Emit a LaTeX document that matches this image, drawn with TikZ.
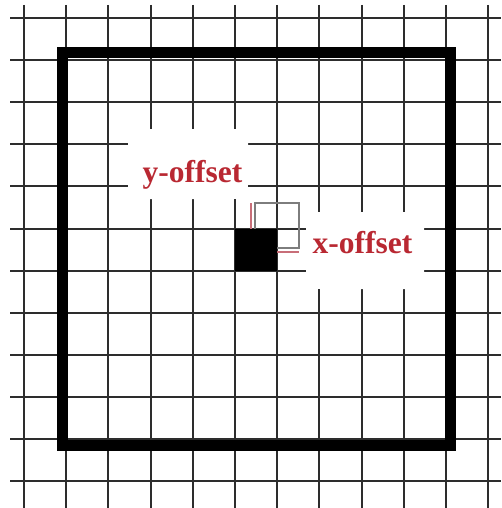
\documentclass[tikz,border=0pt]{standalone}
\usepackage{fontspec}
\setmainfont{Liberation Serif}
\definecolor{gridc}{RGB}{45,45,45}
\definecolor{labred}{RGB}{185,40,50}
\definecolor{outgray}{RGB}{125,125,125}
\definecolor{offred}{RGB}{200,110,120}
\tikzset{
  gridline/.style={draw=gridc, line width=2pt},
  framebox/.style={draw=black, line width=11pt},
  cell/.style={fill=black},
  ghost/.style={draw=outgray, line width=1.6pt},
  offline/.style={draw=offred, line width=1.4pt},
  halo/.style={fill=white, rounded corners=14pt},
  offlabel/.style={text=labred, font=\bfseries\fontsize{31.5}{36}\selectfont, inner sep=0pt, anchor=base}
}
\begin{document}
\begin{tikzpicture}[x=1pt,y=-1pt]
\useasboundingbox (0,0) rectangle (501,508);
\fill[white] (0,0) rectangle (501,508);
% grid
\foreach \i in {0,...,11} {
  \draw[gridline] ({24+42.2*\i},5) -- ({24+42.2*\i},508);
  \draw[gridline] (10,{18+42.1*\i}) -- (501,{18+42.1*\i});
}
% halos behind labels
\fill[halo] (128,129) rectangle (248,199);
\fill[halo] (306,212) rectangle (424,289);
% frame
\draw[framebox] (62,53) rectangle (450,445);
% offset ghost square
\draw[ghost] (255,203) rectangle (299,248);
\coordinate (yl1) at (251,203);
\coordinate (yl2) at (251,229);
\coordinate (xl1) at (277,252);
\coordinate (xl2) at (299,252);
\draw[offline] (yl1) -- (yl2);
\draw[offline] (xl1) -- (xl2);
% black cell
\fill[cell] (235,228.5) rectangle (277.2,270.6);
% labels
\node[offlabel] (ylab) at (192.5,182) {y-offset};
\node[offlabel] (xlab) at (362.5,253) {x-offset};
\end{tikzpicture}
\end{document}
